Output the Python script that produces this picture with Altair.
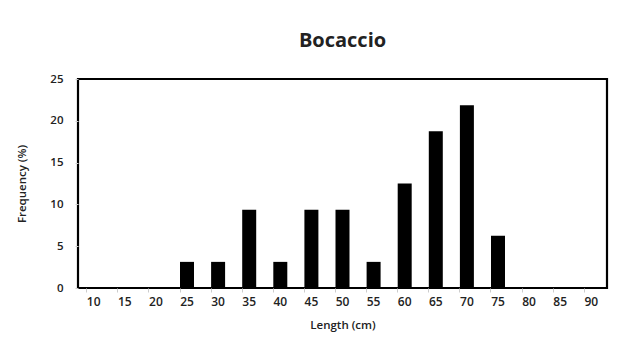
import altair as alt
import pandas as pd

lengths = [10, 15, 20, 25, 30, 35, 40, 45, 50, 55, 60, 65, 70, 75, 80, 85, 90]
frequency = [0, 0, 0, 3.125, 3.125, 9.375, 3.125, 9.375, 9.375, 3.125, 12.5, 18.75, 21.875, 6.25, 0, 0, 0]

df = pd.DataFrame({"Length": [str(v) for v in lengths], "Frequency": frequency})

font = "Open Sans"

chart = alt.Chart(df).mark_bar(color="black").encode(
    x=alt.X("Length:N", sort=[str(v) for v in lengths],
            scale=alt.Scale(paddingInner=0.55, paddingOuter=0.28),
            axis=alt.Axis(title="Length (cm)", labelAngle=0, labelFontSize=12,
                          labelFontWeight=600, labelColor="#222", labelPadding=4,
                          titleFontSize=11.5, titleFontWeight=600, titlePadding=12,
                          titleColor="#222", domain=False, ticks=True, tickColor="#ccc",
                          tickSize=4, bandPosition=0)),
    y=alt.Y("Frequency:Q", scale=alt.Scale(domain=[0, 25]),
            axis=alt.Axis(title="Frequency (%)", values=[0, 5, 10, 15, 20, 25],
                          labelFontSize=11.5, labelFontWeight=600, labelColor="#222",
                          labelPadding=12, grid=False, domain=False, tickColor="#ccc",
                          tickSize=3, titleFontSize=11.5, titleFontWeight=600,
                          titleColor="#222", titlePadding=22)),
).properties(
    width=529, height=209,
    title=alt.TitleParams("Bocaccio", fontSize=20, fontWeight="bold", font=font,
                          color="#222", offset=22, anchor="middle"),
    autosize="none",
    padding={"left": 70, "top": 71, "right": 4, "bottom": 66},
).configure_view(
    stroke="black", strokeWidth=2.2
).configure_axis(
    labelFont=font, titleFont=font
)

chart.save("out.html", embed_options={"renderer": "svg", "actions": False})
